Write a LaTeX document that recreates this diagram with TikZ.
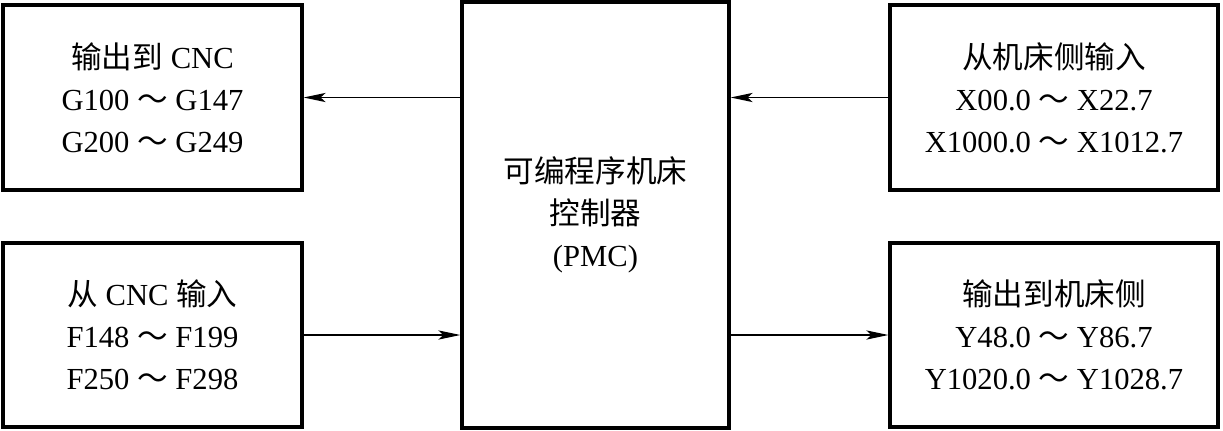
\documentclass[tikz,border=0pt]{standalone}
\usepackage{fontspec}
\setmainfont{Liberation Serif}
\newfontfamily\cjkfont{Noto Sans CJK SC}
\newcommand{\zh}[1]{{\cjkfont #1}}
\usetikzlibrary{arrows.meta, positioning}

\begin{document}
\begin{tikzpicture}[x=0.5pt, y=-0.5pt, >={Stealth[length=11pt, width=4.6pt, inset=2.5pt]},
  line width=0.7pt,
  iobox/.style={
    draw, line width=1.6pt, minimum height=92.5pt, align=center,
    inner sep=0pt, font=\fontsize{15.3}{21}\selectfont
  }]

% Frame
\useasboundingbox (0,0) rectangle (1223,430);

% --- PMC ---
\node[iobox, minimum width=133.5pt, minimum height=213pt] (pmc) at (595.5,215)
  {\zh{可编程序机床}\\\zh{控制器}\\(PMC)};

% --- CNC side ---
\node[iobox, minimum width=149.5pt] (tocnc) at (152.5,97.5)
  {\zh{输出到} CNC\\G100 \zh{～} G147\\G200 \zh{～} G249};
\node[iobox, minimum width=149.5pt, minimum height=92pt] (fromcnc) at (152.5,335)
  {\zh{从} CNC \zh{输入}\\F148 \zh{～} F199\\F250 \zh{～} F298};

% --- Machine side ---
\node[iobox, minimum width=164pt] (frommt) at (1054,97.5)
  {\zh{从机床侧输入}\\X00.0 \zh{～} X22.7\\X1000.0 \zh{～} X1012.7};
\node[iobox, minimum width=164pt, minimum height=92pt] (tomt) at (1054,335)
  {\zh{输出到机床侧}\\Y48.0 \zh{～} Y86.7\\Y1020.0 \zh{～} Y1028.7};

% Arrows
\draw[->] (pmc.west |- tocnc) -- (tocnc.east);
\draw[->] (frommt.west) -- (pmc.east |- frommt);
\draw[->] (fromcnc.east) -- (pmc.west |- fromcnc);
\draw[->] (pmc.east |- tomt) -- (tomt.west);

\end{tikzpicture}
\end{document}
